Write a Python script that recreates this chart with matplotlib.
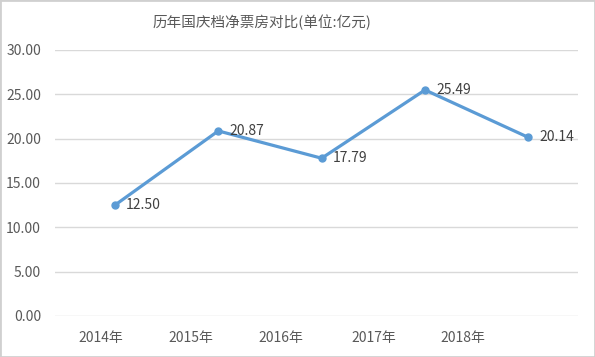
import matplotlib
matplotlib.use("Agg")
from matplotlib import pyplot as plt
from matplotlib.patches import Rectangle

plt.rcParams['font.family'] = ['Noto Sans CJK SC', 'DejaVu Sans']

years = ['2014年', '2015年', '2016年', '2017年', '2018年']
box_office = [12.50, 20.87, 17.79, 25.49, 20.14]
yticks = [0, 5, 10, 15, 20, 25, 30]

txt = '#595959'
blue = '#5B9BD5'

fig = plt.figure(figsize=(5.95, 3.57), dpi=100)
ax = fig.add_axes([0.0924, 0.115, 0.879, 0.745])

x = list(range(len(years)))
ax.plot(x, box_office, color=blue, linewidth=2.3, marker='o', markersize=5, zorder=3)

for xi, v in zip(x, box_office):
    ax.annotate(f'{v:.2f}', (xi, v), xytext=(8, 0), textcoords='offset points',
                ha='left', va='center', fontsize=10, color='#404040')

ax.set_xlim(-0.58, 4.48)
ax.set_ylim(0, 30)
ax.set_yticks(yticks)
ax.set_yticklabels([f'{t:.2f}' for t in yticks])
# category labels sit a bit left of the points in the original
ax.set_xticks([-0.136, 0.736, 1.608, 2.5, 3.37])
ax.set_xticklabels(years)
ax.tick_params(axis='both', length=0, labelsize=10, labelcolor=txt)
ax.tick_params(axis='y', pad=10)
ax.tick_params(axis='x', pad=11)
ax.grid(axis='y', color='#D9D9D9', linewidth=1)
ax.set_axisbelow(True)
for s in ax.spines.values():
    s.set_visible(False)

fig.text(0.44, 0.938, '历年国庆档净票房对比(单位:亿元)', ha='center', va='center',
         fontsize=10.5, color=txt)

fig.patches.append(Rectangle((0, 0), 1, 1, transform=fig.transFigure, fill=False,
                             edgecolor='#D0D0D0', linewidth=2))

plt.savefig('out.png', dpi=100)
